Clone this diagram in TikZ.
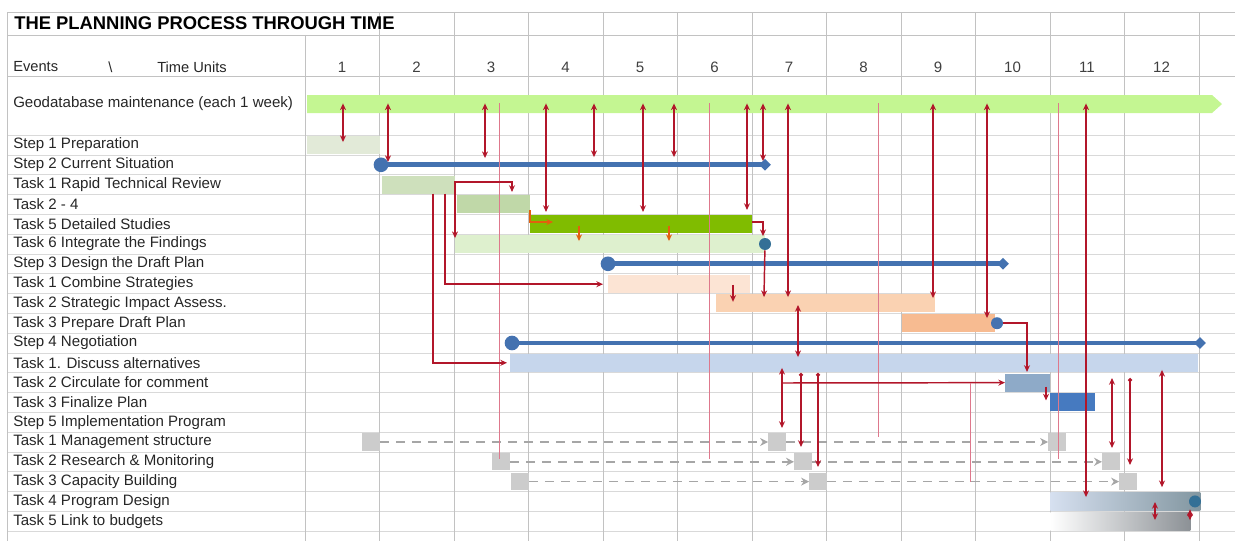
\documentclass[tikz,border=0pt]{standalone}
\usepackage{fontspec}
\setmainfont{Liberation Sans}
\usepackage{xcolor}
\usetikzlibrary{arrows.meta, shapes.geometric}

\definecolor{geogreen}{RGB}{196,246,146}
\definecolor{prepfill}{RGB}{226,234,216}
\definecolor{stepblue}{RGB}{68,114,176}
\definecolor{rapidfill}{RGB}{206,224,188}
\definecolor{twofourfill}{RGB}{192,216,168}
\definecolor{detailfill}{RGB}{128,188,0}
\definecolor{integfill}{RGB}{222,240,206}
\definecolor{combfill}{RGB}{252,228,212}
\definecolor{stratfill}{RGB}{250,210,178}
\definecolor{draftfill}{RGB}{247,187,145}
\definecolor{discfill}{RGB}{198,214,236}
\definecolor{circfill}{RGB}{142,170,200}
\definecolor{finalfill}{RGB}{70,122,192}
\definecolor{tealdot}{RGB}{52,112,150}
\definecolor{designleft}{RGB}{214,224,240}
\definecolor{designright}{RGB}{130,150,160}
\definecolor{budgetright}{RGB}{140,145,150}
\definecolor{linkred}{RGB}{178,22,42}
\definecolor{linkpink}{RGB}{222,120,140}
\definecolor{linkorange}{RGB}{226,96,14}

\newcommand{\ganttbar}[5]{\node[bar, fill=#5, minimum width={(#3-#2)*0.75pt}] (#1) at (#2,#4) {};}

\begin{document}
\begin{tikzpicture}[
  x=0.75pt, y=-14.85pt,
  every node/.style={font=\fontsize{11.3}{13}\selectfont},
  rowtext/.style={anchor=west, inner sep=0pt, text=black!85},
  colnum/.style={inner sep=0pt, text=black!75},
  bar/.style={anchor=west, inner sep=0pt, minimum height=13.5pt},
  stepline/.style={draw=stepblue, line width=3.6pt},
  startms/.style={circle, fill=stepblue, inner sep=0pt, minimum size=11pt},
  endms/.style={diamond, fill=stepblue, inner sep=0pt, minimum size=9pt},
  enddot/.style={circle, fill=tealdot, inner sep=0pt, minimum size=9pt},
  stub/.style={fill=black!20, inner sep=0pt, minimum size=13pt},
  flow/.style={-{Stealth[length=5pt,width=4.5pt]}, draw=linkred, line width=1.1pt},
  twoway/.style={{Stealth[length=5pt,width=4.5pt]}-{Stealth[length=5pt,width=4.5pt]}, draw=linkred, line width=1.1pt},
  dotflow/.style={{Circle[length=3pt]}-{Stealth[length=5pt,width=4.5pt]}, draw=linkred, line width=1.1pt},
  orangeflow/.style={-{Stealth[length=5pt,width=4.5pt]}, draw=linkorange, line width=1.4pt},
  hairline/.style={draw=linkpink, line width=0.6pt},
  dashflow/.style={-{Stealth[length=6pt,width=6pt]}, draw=black!35, dash pattern=on 7pt off 5pt, line width=1.3pt},
  gridline/.style={draw=black!15, line width=0.5pt},
  headline/.style={draw=black!24, line width=0.6pt},
]
  \useasboundingbox (0,-6.3232) rectangle (1235,21.101);

  \foreach \y in {0.5,1.5,...,20.5}
    \draw[gridline] (7,\y) -- (1235,\y);
  \foreach \y in {-5.717,-4.556,-2.485}
    \draw[headline] (7,\y) -- (1235,\y);
  \draw[headline] (7,-5.717) -- (7,21.0);
  \draw[headline] (305,-4.556) -- (305,21.0);
  \foreach \k in {1,...,12}
    \draw[headline] ({305+74.5*\k},-5.717) -- ({305+74.5*\k},21.0);

  \node[anchor=west, inner sep=0pt, font=\fontsize{13.8}{16}\selectfont\bfseries] (title) at (14,-5.16) {THE PLANNING PROCESS THROUGH TIME};
  \node[rowtext, font=\fontsize{11}{13}\selectfont] (hdevents) at (13,-2.94) {Events};
  \node[rowtext, font=\fontsize{11}{13}\selectfont] (hdslash) at (108,-2.94) {\textbackslash};
  \node[rowtext, font=\fontsize{11}{13}\selectfont] (hdunits) at (157,-2.94) {Time Units};
  \foreach \k in {1,...,12}
    \node[colnum] (col\k) at ({342+74.5*(\k-1)},-2.94) {\k};

  \node[rowtext] (geolabel) at (13,-1.07) {Geodatabase maintenance (each 1 week)};
  \foreach \i/\t in {1/Step 1 Preparation, 2/Step 2 Current Situation, 3/Task 1 Rapid Technical Review,
      4/Task 2 - 4, 5/Task 5 Detailed Studies, 6/Task 6 Integrate the Findings, 7/Step 3 Design the Draft Plan,
      8/Task 1 Combine Strategies, 9/Task 2 Strategic Impact Assess., 10/Task 3 Prepare Draft Plan,
      11/Step 4 Negotiation, 12/Task 1. Discuss alternatives, 13/Task 2 Circulate for comment,
      14/Task 3 Finalize Plan, 15/Step 5 Implementation Program, 16/Task 1 Management structure,
      17/Task 2 Research \& Monitoring, 18/Task 3 Capacity Building, 19/Task 4 Program Design,
      20/Task 5 Link to budgets}
    \node[rowtext] (row\i) at (13,\i) {\t};

  \fill[geogreen] (307,-1.525) -- (1212,-1.525) -- (1222,-1.07) -- (1212,-0.615) -- (307,-0.615) -- cycle;
  \coordinate (geo) at (307,-1.07);

  \ganttbar{prep}{307}{380}{1}{prepfill}
  \ganttbar{rapid}{382}{455}{3}{rapidfill}
  \ganttbar{twofour}{457}{530}{4}{twofourfill}
  \ganttbar{integrate}{455}{765}{6}{integfill}
  \ganttbar{detailed}{530}{752}{5}{detailfill}
  \ganttbar{combine}{608}{750}{8}{combfill}
  \ganttbar{strategic}{716}{935}{9}{stratfill}
  \ganttbar{draft}{902}{995}{10}{draftfill}
  \ganttbar{discuss}{510}{1198}{12}{discfill}
  \ganttbar{circulate}{1005}{1050}{13}{circfill}
  \ganttbar{finalize}{1050}{1095}{14}{finalfill}
  \node[bar, minimum width={150*0.75pt}, left color=designleft, right color=designright] (design) at (1050,19) {};
  \node[bar, minimum width={140*0.75pt}, left color=white, right color=budgetright] (budget) at (1050,20) {};

  \path (381,2) coordinate (s2a) (765,2) coordinate (s2b)
        (608,7) coordinate (s3a) (1003,7) coordinate (s3b)
        (512,11) coordinate (s4a) (1200,11) coordinate (s4b);
  \draw[stepline] (s2a) -- (s2b);
  \draw[stepline] (s3a) -- (s3b);
  \draw[stepline] (s4a) -- (s4b);
  \node[startms] at (s2a) {};
  \node[endms] at (s2b) {};
  \node[startms] at (s3a) {};
  \node[endms] at (s3b) {};
  \node[startms] at (s4a) {};
  \node[endms] at (s4b) {};
  \node[enddot] (integend) at (765,6) {};
  \node[enddot, fill=stepblue] (draftend) at (997,10) {};
  \node[enddot] (designend) at (1195,19) {};

  \node[stub] (mg1) at (371,16) {};
  \node[stub] (mg2) at (777,16) {};
  \node[stub] (mg3) at (1057,16) {};
  \node[stub] (rm1) at (501,17) {};
  \node[stub] (rm2) at (803,17) {};
  \node[stub] (rm3) at (1111,17) {};
  \node[stub] (cb1) at (520,18) {};
  \node[stub] (cb2) at (818,18) {};
  \node[stub] (cb3) at (1128,18) {};
  \draw[dashflow] (mg1) -- (mg2);
  \draw[dashflow] (mg2) -- (mg3);
  \draw[dashflow] (rm1) -- (rm2);
  \draw[dashflow] (rm2) -- (rm3);
  \draw[dashflow] (cb1) -- (cb2);
  \draw[dashflow] (cb2) -- (cb3);

  \foreach \x in {499,709,878,1058}
    \draw[hairline] (\x,-1.1) -- (\x,{\x==878 ? 15.75 : 16.85});
  \foreach \x/\y in {343/0.85, 388/1.86, 485/1.66, 546/4.38, 594/1.61, 643/4.38, 674/1.61,
      747/4.28, 763/1.81, 788/8.68, 933/8.73, 987/9.74, 1086/18.78}
    \draw[twoway] (\x,-1.1) -- (\x,\y);

  \draw[twoway] (512,3.37) -- (512,2.87) -- (455,2.87) -- (455,5.7);
  \draw[flow] (445,3.45) |- (603,8.03);
  \draw[flow] (433,3.45) |- (507,12.0);
  \draw[orangeflow] (530,4.28) |- (553,4.89);
  \draw[orangeflow] (579,5.09) -- (579,5.85);
  \draw[orangeflow] (669,5.09) -- (669,5.85);
  \draw[flow] (752,4.89) -| (763,5.6);
  \draw[flow] (integend) -- (764,8.68);
  \draw[flow] (733,8.06) -- (733,8.92);
  \draw[twoway] (798,9.08) -- (798,11.71);
  \draw[flow] (draftend) -| (1027,12.46);
  \draw[flow] (782,13.02) -- (circulate);
  \draw[twoway] (782,12.26) -- (782,15.29);
  \draw[dotflow] (801,12.51) -- (801,16.25);
  \draw[dotflow] (818,12.51) -- (818,17.26);
  \draw[hairline] (970,13.02) -- (970,18.03);
  \draw[flow] (1046,13.2) -- (1046,13.9);
  \draw[twoway] (1112,12.77) -- (1112,16.30);
  \draw[dotflow] (1130,12.77) -- (1130,17.16);
  \draw[twoway] (1162,12.36) -- (1162,18.28);
  \draw[twoway] (1155,19.03) -- (1155,19.94);
  \draw[twoway] (1190,19.4) -- (1190,19.95);
\end{tikzpicture}
\end{document}
